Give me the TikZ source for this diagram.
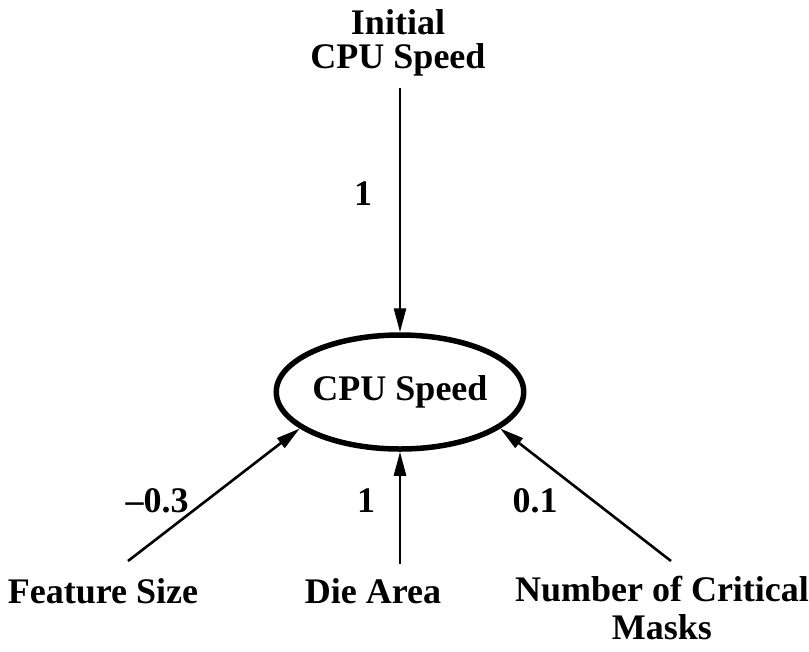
\documentclass[tikz,border=0pt]{standalone}
\usepackage{fontspec}
\setmainfont{Liberation Serif}
\usetikzlibrary{arrows.meta,shapes.geometric}
\begin{document}
\begin{tikzpicture}[x=1pt,y=-1pt,
  txt/.style={font=\fontsize{36}{34}\selectfont\bfseries, inner sep=0pt, align=center},
  txtwide/.style={font=\fontsize{36}{38}\selectfont\bfseries, inner sep=0pt, align=center},
  weight/.style={font=\fontsize{36}{36}\selectfont\bfseries, inner sep=0pt, anchor=base},
  link/.style={line width=2.6pt, -{Triangle[length=24pt,width=12pt]}},
  ]
\useasboundingbox (0,0) rectangle (809,651);

% central variable
\node[ellipse, draw, line width=5.5pt, minimum width=228pt, minimum height=114pt,
      inner sep=0pt, font=\fontsize{36}{36}\selectfont\bfseries] (speed) at (400,392) {CPU Speed};

% inputs
\node[txt, anchor=north] (init) at (398,9) {Initial\\CPU Speed};
\node[txt, anchor=base] (feat) at (103,603) {Feature Size};
\node[txt, anchor=base] (die) at (373,603) {Die Area};
\node[txtwide, anchor=north] (masks) at (662,576) {Number of Critical\\Masks};

% free ends of the connectors
\coordinate (initend) at (400,88);
\coordinate (featend) at (128,561);
\coordinate (dieend) at (400,564);
\coordinate (masksend) at (671,561);

% connectors
\draw[link] (initend) -- (speed.north);
\draw[link] (featend) -- (speed.200);
\draw[link] (dieend) -- (speed.south);
\draw[link] (masksend) -- (speed.340);

% path coefficients
\node[weight] (w1) at (363,205) {1};
\node[weight] (w2) at (157,512) {--0.3};
\node[weight] (w3) at (366,512) {1};
\node[weight] (w4) at (535,512) {0.1};
\end{tikzpicture}
\end{document}
